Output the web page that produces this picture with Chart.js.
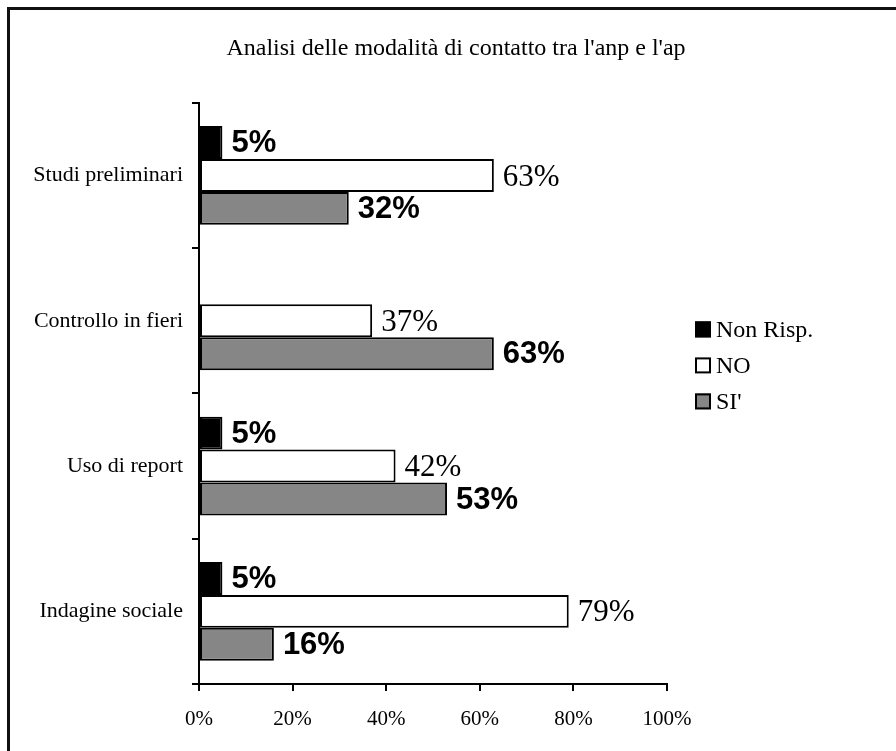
<!DOCTYPE html>
<html>
<head>
<meta charset="utf-8">
<script src="https://cdn.jsdelivr.net/npm/chart.js@4/dist/chart.umd.min.js"></script>
<style>
    html, body { margin: 0; padding: 0; background: #fff; }
    #wrap { position: relative; width: 896px; height: 751px; overflow: hidden; }
    #frame { position: absolute; left: 7px; top: 7px; width: 1000px; height: 1000px;
             border-left: 3px solid #111; border-top: 3px solid #111; }
    #chart { position: absolute; left: 0; top: 0; }
</style>
</head>
<body>
<div id="wrap">
    <div id="frame"></div>
    <canvas id="chart" width="896" height="751"></canvas>
</div>
<script>
let categories = ["Studi preliminari", "Controllo in fieri", "Uso di report", "Indagine sociale"];
let nonRisp = [5, null, 5, 5];
let no = [63, 37, 42, 79];
let si = [32, 63, 53, 16];
let xTicks = [0, 20, 40, 60, 80, 100];

const SERIF = "'Liberation Serif', 'Times New Roman', serif";
const SANS = "'Liberation Sans', Arial, sans-serif";

// value labels next to each bar end
const barLabels = {
    id: "barLabels",
    afterDatasetsDraw(chart) {
        let ctx = chart.ctx;
        chart.data.datasets.forEach((ds, i) => {
            let meta = chart.getDatasetMeta(i);
            ctx.save();
            ctx.fillStyle = "#000";
            ctx.textAlign = "left";
            ctx.textBaseline = "middle";
            ctx.font = ds.labelFont;
            meta.data.forEach((bar, j) => {
                let v = ds.data[j];
                if (v === null || v === undefined)
                    return;
                ctx.fillText(v + "%", bar.x + 9, bar.y + (ds.labelDy || 0));
            });
            ctx.restore();
        });
    }
};

// legend on the right, drawn from the datasets
const sideLegend = {
    id: "sideLegend",
    afterDraw(chart) {
        let ctx = chart.ctx;
        let area = chart.chartArea;
        let x = area.right + 28;
        let y = (area.top + area.bottom) / 2 - 64;
        ctx.save();
        ctx.font = "24px " + SERIF;
        ctx.textBaseline = "middle";
        chart.data.datasets.forEach(ds => {
            ctx.fillStyle = ds.backgroundColor;
            ctx.fillRect(x, y - 8, 16, 16);
            ctx.lineWidth = 2;
            ctx.strokeStyle = "#000";
            ctx.strokeRect(x + 1, y - 7, 14, 14);
            ctx.fillStyle = "#000";
            ctx.fillText(ds.label, x + 21, y + 1);
            y += 36;
        });
        ctx.restore();
    }
};

let ctx = document.getElementById("chart").getContext("2d");
new Chart(ctx, {
    type: "bar",
    data: {
        labels: categories,
        datasets: [
            { label: "Non Risp.", data: nonRisp, backgroundColor: "#000", labelFont: "bold 31px " + SANS, labelDy: 1 },
            { label: "NO", data: no, backgroundColor: "#fff", labelFont: "31px " + SERIF, labelDy: 2 },
            { label: "SI'", data: si, backgroundColor: "#868686", labelFont: "bold 31px " + SANS, labelDy: 1 }
        ]
    },
    options: {
        indexAxis: "y",
        responsive: false,
        animation: false,
        layout: { padding: { left: 16, right: 0, top: 0, bottom: 0 } },
        datasets: {
            bar: {
                borderColor: "#000",
                borderWidth: 2,
                borderSkipped: false,
                categoryPercentage: 0.68,
                barPercentage: 1
            }
        },
        scales: {
            x: {
                min: 0,
                max: 100,
                afterBuildTicks: s => { s.ticks = xTicks.map(v => ({ value: v })); },
                afterFit: s => { s.height = 67; },
                ticks: {
                    color: "#000",
                    padding: 16,
                    font: { family: SERIF, size: 21 },
                    callback: v => v + "%"
                },
                grid: { drawOnChartArea: false, color: "#000", lineWidth: 2, tickLength: 7 },
                border: { color: "#000", width: 2 }
            },
            y: {
                afterFit: s => { s.width = 183; },
                ticks: {
                    color: "#000",
                    padding: 9,
                    font: { family: SERIF, size: 22 }
                },
                grid: { drawOnChartArea: false, color: "#000", lineWidth: 2, tickLength: 7 },
                border: { color: "#000", width: 2 }
            },
            // empty space on the right for the legend
            pad: {
                type: "linear",
                position: "right",
                display: true,
                afterFit: s => { s.width = 229; },
                ticks: { display: false },
                grid: { display: false },
                border: { display: false }
            }
        },
        plugins: {
            legend: { display: false },
            tooltip: { enabled: false },
            title: {
                display: true,
                text: "Analisi delle modalità di contatto tra l'anp e l'ap",
                color: "#000",
                font: { family: SERIF, size: 24, weight: "normal" },
                padding: { top: 34, bottom: 40 }
            }
        }
    },
    plugins: [barLabels, sideLegend]
});
</script>
</body>
</html>
